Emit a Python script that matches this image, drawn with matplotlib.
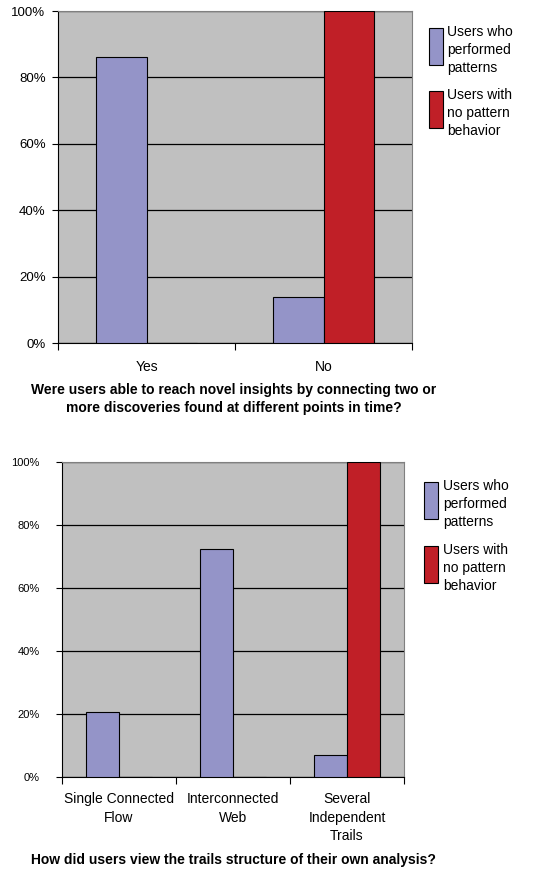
import numpy as np
import matplotlib.pyplot as plt
from matplotlib.patches import Rectangle
from matplotlib.ticker import PercentFormatter

plt.rcParams["font.family"] = ["Liberation Sans", "DejaVu Sans"]

# chart 1
q1_categories = ["Yes", "No"]
q1_patterns = [86, 14]
q1_no_pattern = [0, 100]
q1_title = ("Were users able to reach novel insights by connecting two or\n"
            "more discoveries found at different points in time?")

# chart 2
q2_categories = ["Single Connected\nFlow", "Interconnected\nWeb", "Several\nIndependent\nTrails"]
q2_patterns = [20.5, 72.5, 7]
q2_no_pattern = [0, 0, 100]
q2_title = "How did users view the trails structure of their own analysis?"

legend_labels = ["Users who\nperformed\npatterns", "Users with\nno pattern\nbehavior"]

BLUE = "#9494c8"
RED = "#c01f27"
BG = "#c0c0c0"

W, H = 533, 871
fig = plt.figure(figsize=(W / 100, H / 100), dpi=100)


def px_axes(left, top, right, bottom):
    return fig.add_axes([left / W, 1 - bottom / H, (right - left) / W, (bottom - top) / H])


def draw_chart(ax, categories, patterns, no_pattern, tick_size, tick_pad, cat_pad, bar_w):
    x = np.arange(len(categories))
    ax.set_facecolor(BG)
    ax.bar(x - bar_w / 2, patterns, bar_w, color=BLUE, edgecolor="black", linewidth=0.8, zorder=3)
    ax.bar(x + bar_w / 2, no_pattern, bar_w, color=RED, edgecolor="black", linewidth=0.8, zorder=3)
    ax.set_xlim(-0.5, len(categories) - 0.5)
    ax.set_ylim(0, 100)
    ax.set_yticks([0, 20, 40, 60, 80, 100])
    ax.yaxis.set_major_formatter(PercentFormatter(decimals=0))
    ax.grid(axis="y", color="black", linewidth=0.9, zorder=1)
    ax.set_xticks(np.arange(len(categories) + 1) - 0.5)
    ax.set_xticklabels([])
    ax.set_xticks(x, minor=True)
    ax.set_xticklabels(categories, minor=True, fontsize=10, linespacing=1.4)
    ax.tick_params(axis="x", which="minor", length=0, pad=cat_pad)
    ax.tick_params(axis="x", which="major", length=5, direction="out", width=0.8)
    ax.tick_params(axis="y", length=4, width=0.8, labelsize=tick_size, pad=tick_pad)
    for s in ["top", "right"]:
        ax.spines[s].set_color("#808080")
    for s in ["left", "bottom"]:
        ax.spines[s].set_color("black")


def draw_legend(x, top_blue, top_red, text_x):
    for y0, color, label in [(top_blue, BLUE, legend_labels[0]), (top_red, RED, legend_labels[1])]:
        fig.patches.append(Rectangle((x / W, 1 - (y0 + 37) / H), 14 / W, 37 / H,
                                     transform=fig.transFigure, facecolor=color,
                                     edgecolor="black", linewidth=0.8))
        fig.text(text_x / W, 1 - (y0 - 3) / H, label, ha="left", va="top",
                 fontsize=10, linespacing=1.35)


# top chart
ax1 = px_axes(58, 11, 412, 343)
draw_chart(ax1, q1_categories, q1_patterns, q1_no_pattern, 9.5, 5, 12, 0.285)
fig.text(234 / W, 1 - 399 / H, q1_title, ha="center", va="center",
         fontsize=10, fontweight="bold", linespacing=1.3)
draw_legend(429, 28, 91, 447)

# bottom chart
ax2 = px_axes(62, 462, 404, 777)
draw_chart(ax2, q2_categories, q2_patterns, q2_no_pattern, 8, 12, 11, 0.29)
fig.text(233 / W, 1 - 860 / H, q2_title, ha="center", va="center",
         fontsize=10, fontweight="bold")
draw_legend(424, 482, 546, 443)

fig.savefig("out.png", dpi=100)
